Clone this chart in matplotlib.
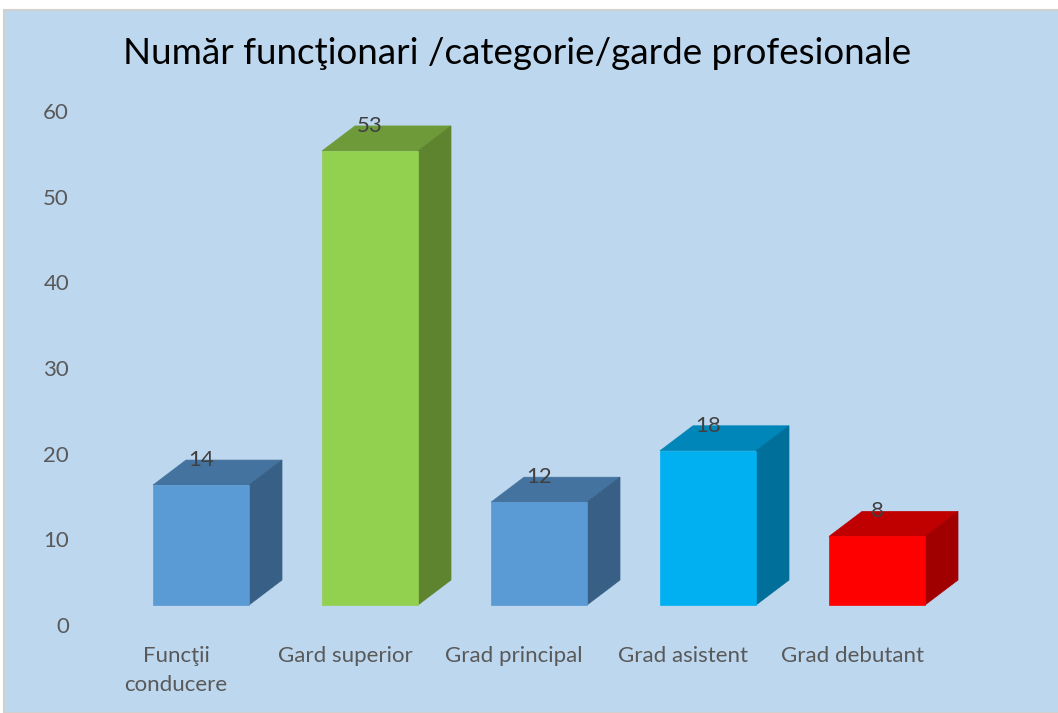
import numpy as np
import matplotlib
matplotlib.use("Agg")
import matplotlib.pyplot as plt
from matplotlib.patches import Rectangle

# data
categories = ["Funcţii\nconducere", "Gard superior", "Grad principal", "Grad asistent", "Grad debutant"]
values = [14, 53, 12, 18, 8]
front_colors = ["#5B9BD5", "#92D050", "#5B9BD5", "#00B0F0", "#FF0000"]
top_colors = ["#44739F", "#6E9A3A", "#44739F", "#0086B8", "#C00000"]
side_colors = ["#385F85", "#5E8430", "#385F85", "#006F99", "#A00000"]
yticks = [0, 10, 20, 30, 40, 50, 60]

plt.rcParams['font.family'] = ['Lato', 'DejaVu Sans']

W, H = 1058, 713
fig = plt.figure(figsize=(W/100, H/100), dpi=100)
fig.patch.set_facecolor("white")
fig.patches.append(Rectangle((4/W, 0), 1, 1 - 10/H, transform=fig.transFigure,
                             facecolor="#BDD7EE", edgecolor="#D0D0D0", lw=1.5, zorder=-10))

step = 169.0          # px between bars
xpad = 0.6
left = 201 - xpad*step
width = (4 + 2*xpad)*step
bottom = H - 605
height = 60*8.567

# bar axes
ax = fig.add_axes([left/W, bottom/H, width/W, height/H])
ax.set_xlim(-xpad, 4 + xpad)
ax.set_ylim(0, 60)
ax.axis("off")

# label axes, shifted like Excel's 3D wall
lab = fig.add_axes([(left-25)/W, (bottom-20)/H, width/W, height/H])
lab.set_xlim(-xpad, 4 + xpad)
lab.set_ylim(0, 60)
lab.patch.set_visible(False)
for s in lab.spines.values():
    s.set_visible(False)
lab.set_yticks(yticks)
lab.set_xticks(range(len(categories)))
lab.set_xticklabels(categories, fontsize=16, color="#595959", linespacing=1.55)
lab.tick_params(axis="y", length=0, pad=4, labelsize=16, labelcolor="#595959")
lab.tick_params(axis="x", length=0, pad=15)

bw = 96/step
dx = 33/step
dy = 25/8.567
x = np.arange(len(values))

ax.bar(x, values, width=bw, color=front_colors, edgecolor=front_colors, lw=0.5, zorder=3, clip_on=False)
for xi, v, tc, sc in zip(x, values, top_colors, side_colors):
    l, r = xi - bw/2, xi + bw/2
    ax.fill([l, r, r+dx, l+dx], [v, v, v+dy, v+dy], color=tc, lw=0.5, zorder=2, clip_on=False)
    ax.fill([r, r+dx, r+dx, r], [0, dy, v+dy, v], color=sc, lw=0.5, zorder=2, clip_on=False)
    ax.text(xi, v+dy, str(v), ha="center", va="center", fontsize=16, color="#404040", zorder=5)

fig.text(517/W, 1 - 53/H, "Număr funcţionari /categorie/garde profesionale",
         ha="center", va="center", fontsize=26.5, color="black")

fig.savefig("out.png", dpi=100)
